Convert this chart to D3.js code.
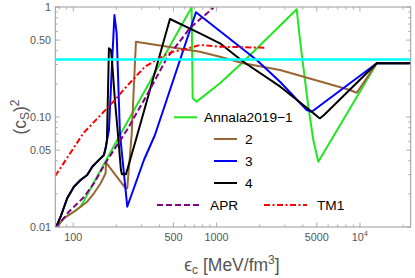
<!DOCTYPE html>
<html>
<head>
<meta charset="utf-8">
<script src="https://cdn.jsdelivr.net/npm/d3@7"></script>
<style>
  html, body { margin: 0; padding: 0; background: #fff; }
  svg { display: block; font-family: "Liberation Sans", Arial, sans-serif; }
</style>
</head>
<body>
<svg id="chart" width="415" height="278"></svg>
<script>
// ---- data: [energy density eps_c (MeV/fm^3), c_s^2] ----
const annala = [[75.5, 0.0098], [86.1, 0.0120], [93.3, 0.01286], [101.1, 0.01377], [112.6, 0.01529],
  [202.8, 0.0618], [670, 0.995], [681, 0.148], [726, 0.138], [1056, 0.2025], [1536, 0.318],
  [3622, 0.953], [3819, 0.501], [4364, 0.124], [4730, 0.0618], [5126, 0.0392], [13100, 0.3077], [23500, 0.3077]];

const eos2 = [[75.5, 0.0098], [86.1, 0.0120], [93.3, 0.01286], [101.1, 0.01377], [112.6, 0.01529],
  [125.2, 0.01698], [139.5, 0.02025], [155.4, 0.02496], [168.3, 0.03078], [169.1, 0.0386],
  [232.2, 0.02249], [238.2, 0.02249], [255.6, 0.0686], [273.9, 0.4836], [766, 0.3923],
  [1056, 0.3533], [1536, 0.3077], [2770, 0.2676], [8530, 0.176], [9500, 0.1663], [13100, 0.3077], [23500, 0.3077]];

const eos3 = [[75.5, 0.0098], [81.7, 0.0124], [90.8, 0.01824], [101.1, 0.02323], [112.6, 0.02675],
  [125.2, 0.02971], [135.7, 0.03532], [147.1, 0.03926], [163.7, 0.04515], [168.3, 0.0519],
  [177.5, 0.0761], [187.1, 0.3299], [193.9, 0.8459], [200.9, 0.5767], [211.8, 0.0711],
  [238.2, 0.01529], [311.4, 0.04066], [371.6, 0.0686], [718, 0.8951], [1905, 0.3299],
  [2770, 0.2094], [4254, 0.1158], [4610, 0.1117], [13100, 0.3077], [23500, 0.3077]];

const eos4 = [[75.5, 0.0098], [81.7, 0.0124], [90.8, 0.01824], [101.1, 0.02323], [112.6, 0.02675],
  [125.2, 0.02971], [135.7, 0.03532], [147.1, 0.03926], [163.7, 0.04515], [168.3, 0.0519],
  [171.9, 0.0618], [177.5, 0.4212], [183.3, 0.4065], [186.2, 0.3299], [195.4, 0.1427],
  [206.8, 0.0618], [215.2, 0.03297], [218.7, 0.03014], [233.3, 0.03014], [265.2, 0.0537],
  [473, 0.7778], [766, 0.5767], [1056, 0.4677], [1536, 0.3181], [2783, 0.1886], [4610, 0.1117],
  [5126, 0.0994], [5268, 0.0973], [5617, 0.1043], [13100, 0.3077], [23500, 0.3077]];

const apr = [[75.7, 0.0098], [93.3, 0.01377], [118.8, 0.01874], [139.5, 0.02496], [168.3, 0.0384],
  [237.0, 0.0761], [326.8, 0.1585], [450.7, 0.3438], [652.4, 0.6442], [950, 0.985]];

const tm1 = [[74.9, 0.0291], [109.6, 0.0618], [117.4, 0.0711], [195.4, 0.1427], [229.5, 0.1823],
  [316.5, 0.2867], [361.6, 0.3181], [436.5, 0.3664], [498.6, 0.3925], [601.9, 0.4124],
  [766, 0.4514], [1056, 0.4356], [2177, 0.4266]];

const causalLimit = 1 / 3;

const xMajor = [100, 500, 1000, 5000, 10000];
const xMajorLabels = ["100", "500", "1000", "5000", "10^4"];
const xMinor = [80, 90, 200, 300, 400, 600, 700, 800, 900, 2000, 3000, 4000, 6000, 7000, 8000, 9000, 20000];
const yMajor = [0.01, 0.05, 0.1, 0.5, 1];
const yMajorLabels = ["0.01", "0.05", "0.10", "0.50", "1"];
const yMinor = [0.02, 0.03, 0.04, 0.06, 0.07, 0.08, 0.09, 0.2, 0.3, 0.4, 0.6, 0.7, 0.8, 0.9];

const seriesNames = ["Annala2019\u22121", "2", "3", "4", "APR", "TM1"];

// ---- layout ----
const svg = d3.select("#chart");
const box = {left: 55.3, right: 410.7, top: 7, bottom: 227};

const xScale = d3.scaleLog().domain([75, 22600]).range([box.left, box.right]);
const yScale = d3.scaleLog().domain([0.01, 1]).range([box.bottom, box.top]);

const line = d3.line()
    .x(d => xScale(d[0]))
    .y(d => yScale(d[1]));

svg.append("clipPath").attr("id", "plotclip")
    .append("rect")
    .attr("x", box.left).attr("y", box.top)
    .attr("width", box.right - box.left).attr("height", box.bottom - box.top);

const series = [
    {data: annala, color: "#22e622", dash: null},
    {data: eos2, color: "#996633", dash: null},
    {data: eos3, color: "#0000ff", dash: null},
    {data: eos4, color: "#000000", dash: null},
    {data: apr, color: "#800080", dash: "6,3"},
    {data: tm1, color: "#ff0000", dash: "6,2.5,2,2.5"}
];

const plot = svg.append("g").attr("clip-path", "url(#plotclip)");

series.forEach(s => {
    plot.append("path")
        .datum(s.data)
        .attr("fill", "none")
        .attr("stroke", s.color)
        .attr("stroke-width", 2)
        .attr("stroke-linejoin", "round")
        .attr("stroke-dasharray", s.dash)
        .attr("d", line);
});

// c_s^2 = 1/3 line, drawn on top
plot.append("line")
    .attr("x1", box.left).attr("x2", box.right)
    .attr("y1", yScale(causalLimit)).attr("y2", yScale(causalLimit))
    .attr("stroke", "#00ffff")
    .attr("stroke-width", 2.5);

// ---- frame and ticks ----
const frameColor = "#999";
svg.append("rect")
    .attr("x", box.left).attr("y", box.top)
    .attr("width", box.right - box.left).attr("height", box.bottom - box.top)
    .attr("fill", "none")
    .attr("stroke", frameColor)
    .attr("stroke-width", 1);

const ticks = svg.append("g").attr("stroke", frameColor).attr("stroke-width", 0.8);
const addXTicks = (vals, len) => vals.forEach(v => {
    const px = xScale(v);
    ticks.append("line").attr("x1", px).attr("x2", px).attr("y1", box.bottom).attr("y2", box.bottom - len);
    ticks.append("line").attr("x1", px).attr("x2", px).attr("y1", box.top).attr("y2", box.top + len);
});
const addYTicks = (vals, len) => vals.forEach(v => {
    const py = yScale(v);
    ticks.append("line").attr("x1", box.left).attr("x2", box.left + len).attr("y1", py).attr("y2", py);
    ticks.append("line").attr("x1", box.right).attr("x2", box.right - len).attr("y1", py).attr("y2", py);
});
addXTicks(xMajor, 4.5);
addXTicks(xMinor, 2.5);
addYTicks(yMajor, 4.5);
addYTicks(yMinor, 2.5);

const labelColor = "#555";
xMajor.forEach((v, i) => {
    const t = svg.append("text")
        .attr("x", xScale(v))
        .attr("y", 241)
        .attr("text-anchor", "middle")
        .attr("font-size", "10.8px")
        .attr("fill", labelColor);
    const lab = xMajorLabels[i];
    if (lab.includes("^")) {
        const parts = lab.split("^");
        t.append("tspan").text(parts[0]);
        t.append("tspan").attr("font-size", "7.5px").attr("dy", -5).text(parts[1]);
    } else {
        t.text(lab);
    }
});

yMajor.forEach((v, i) => {
    svg.append("text")
        .attr("x", 51)
        .attr("y", yScale(v))
        .attr("dy", "0.36em")
        .attr("text-anchor", "end")
        .attr("font-size", "10.8px")
        .attr("fill", labelColor)
        .text(yMajorLabels[i]);
});

// axis titles
const xt = svg.append("text")
    .attr("x", 232)
    .attr("y", 271)
    .attr("text-anchor", "middle")
    .attr("font-size", "17.5px")
    .attr("fill", labelColor);
xt.append("tspan").text("\u03f5");
xt.append("tspan").attr("font-size", "12px").attr("dy", 3).text("c");
xt.append("tspan").attr("dy", -3).text(" [MeV/fm");
xt.append("tspan").attr("font-size", "12px").attr("dy", -7).text("3");
xt.append("tspan").attr("dy", 7).text("]");

const yt = svg.append("text")
    .attr("transform", "translate(26,117) rotate(-90)")
    .attr("text-anchor", "middle")
    .attr("font-size", "17.5px")
    .attr("fill", labelColor);
yt.append("tspan").text("(c");
yt.append("tspan").attr("font-size", "12px").attr("dy", 3).text("S");
yt.append("tspan").attr("dy", -3).text(")");
yt.append("tspan").attr("font-size", "12px").attr("dy", -7).text("2");

// ---- legend ----
const legendRows = [
    {i: 0, x1: 174, x2: 197, y: 117.3, tx: 204},
    {i: 1, x1: 214, x2: 237, y: 139, tx: 245},
    {i: 2, x1: 214, x2: 237, y: 161, tx: 245},
    {i: 3, x1: 214, x2: 237, y: 183, tx: 245},
    {i: 4, x1: 157, x2: 200, y: 205, tx: 210},
    {i: 5, x1: 264, x2: 307, y: 205, tx: 317}
];
const legend = svg.append("g");
legendRows.forEach(r => {
    const s = series[r.i];
    legend.append("line")
        .attr("x1", r.x1).attr("x2", r.x2)
        .attr("y1", r.y).attr("y2", r.y)
        .attr("stroke", s.color)
        .attr("stroke-width", 2)
        .attr("stroke-dasharray", s.dash);
    legend.append("text")
        .attr("x", r.tx)
        .attr("y", r.y)
        .attr("dy", "0.36em")
        .attr("font-size", "13.7px")
        .attr("fill", "#000")
        .text(seriesNames[r.i]);
});
</script>
</body>
</html>
